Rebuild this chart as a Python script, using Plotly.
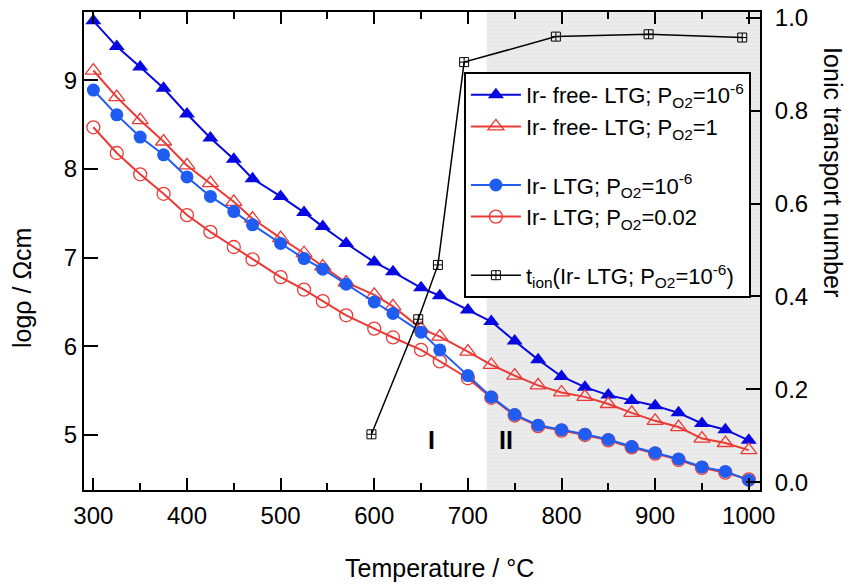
import plotly.graph_objects as go

# ---- data ----
temp = [300, 325, 350, 375, 400, 425, 450, 470, 500, 525, 545, 570, 600, 620, 650,
        670, 700, 725, 750, 775, 800, 825, 850, 875, 900, 925, 950, 975, 1000]

irfree_1e6 = [9.67, 9.38, 9.15, 8.91, 8.62, 8.35, 8.11, 7.89, 7.69, 7.51, 7.35, 7.16, 6.95, 6.84, 6.66,
              6.57, 6.41, 6.28, 6.06, 5.85, 5.66, 5.54, 5.45, 5.39, 5.33, 5.25, 5.13, 5.06, 4.94]
irfree_1 = [9.11, 8.81, 8.55, 8.31, 8.04, 7.84, 7.63, 7.44, 7.22, 7.05, 6.90, 6.72, 6.58, 6.45, 6.20,
            6.11, 5.94, 5.79, 5.67, 5.56, 5.48, 5.43, 5.35, 5.25, 5.16, 5.09, 4.96, 4.91, 4.83]
irltg_1e6 = [8.89, 8.61, 8.36, 8.16, 7.91, 7.69, 7.52, 7.37, 7.16, 6.99, 6.87, 6.70, 6.50, 6.37, 6.16,
             5.96, 5.67, 5.43, 5.23, 5.11, 5.06, 5.01, 4.95, 4.87, 4.80, 4.73, 4.64, 4.59, 4.49]
irltg_002 = [8.47, 8.18, 7.94, 7.72, 7.48, 7.29, 7.12, 6.98, 6.78, 6.64, 6.51, 6.35, 6.20, 6.10, 5.96,
             5.83, 5.64, 5.42, 5.22, 5.10, 5.05, 5.00, 4.94, 4.86, 4.79, 4.72, 4.63, 4.575, 4.50]

tion_temp = [597, 647, 668, 696, 794, 893, 993]
tion_val = [0.103, 0.351, 0.468, 0.905, 0.960, 0.965, 0.958]

region_start = 720          # start of shaded region II
x_range = [290, 1012]
y_range = [4.38, 9.77]
y2_range = [-0.017, 1.013]
x_ticks = [300, 400, 500, 600, 700, 800, 900, 1000]
y_ticks = [5, 6, 7, 8, 9]
y2_ticks = [0.0, 0.2, 0.4, 0.6, 0.8, 1.0]

FONT = "Arial"
BLUE_T = "#0808e0"
BLUE_C = "#1f5cf2"
RED = "#ea3a36"
PO2 = "P<sub>O2</sub>"

fig = go.Figure()

# shaded region II
fig.add_trace(go.Scatter(
    x=[region_start, region_start, x_range[1], x_range[1], region_start],
    y=[y_range[0], y_range[1], y_range[1], y_range[0], y_range[0]],
    mode="lines", line=dict(width=0), fill="toself",
    fillcolor="#ebebeb",
    fillpattern=dict(shape="+", fgcolor="#d4d4d4", bgcolor="#ececec", size=4, solidity=0.2),
    hoverinfo="skip", showlegend=False))

fig.add_trace(go.Scatter(
    x=temp, y=irfree_1e6, mode="lines+markers", name=f"Ir- free- LTG; {PO2}=10<sup>-6</sup>",
    legendgroup="a", legendrank=1,
    line=dict(color=BLUE_T, width=2),
    marker=dict(symbol="triangle-up", size=14, color=BLUE_T)))
fig.add_trace(go.Scatter(
    x=temp, y=irfree_1, mode="lines+markers", name=f"Ir- free- LTG; {PO2}=1",
    legendgroup="a", legendrank=2,
    line=dict(color=RED, width=2),
    marker=dict(symbol="triangle-up-open", size=14, color=RED, line=dict(width=1.3))))
fig.add_trace(go.Scatter(
    x=temp, y=irltg_002, mode="lines+markers", name=f"Ir- LTG; {PO2}=0.02",
    legendgroup="b", legendrank=4,
    line=dict(color=RED, width=2),
    marker=dict(symbol="circle-open", size=13, color=RED, line=dict(width=1.3))))
fig.add_trace(go.Scatter(
    x=temp, y=irltg_1e6, mode="lines+markers", name=f"Ir- LTG; {PO2}=10<sup>-6</sup>",
    legendgroup="b", legendrank=3,
    line=dict(color=BLUE_C, width=2),
    marker=dict(symbol="circle", size=13, color=BLUE_C)))
fig.add_trace(go.Scatter(
    x=tion_temp, y=tion_val, yaxis="y2", mode="lines+markers",
    name=f"t<sub>ion</sub>(Ir- LTG; {PO2}=10<sup>-6</sup>)",
    legendgroup="c", legendrank=5,
    line=dict(color="black", width=1.5),
    marker=dict(symbol="square-cross-open", size=9, color="black", line=dict(width=1))))

fig.add_annotation(x=661, y=4.94, text="<b>I</b>", showarrow=False,
                   font=dict(size=25, family=FONT, color="black"))
fig.add_annotation(x=741, y=4.94, text="<b>II</b>", showarrow=False,
                   font=dict(size=25, family=FONT, color="black"))

# axis titles
title_font = dict(size=25, family=FONT, color="black")
fig.add_annotation(xref="paper", yref="paper", x=-0.0917, y=0.4226, text="logρ / Ωcm",
                   textangle=-90, showarrow=False, font=title_font,
                   xanchor="center", yanchor="middle")
fig.add_annotation(xref="paper", yref="paper", x=1.108, y=0.665, text="Ionic transport number",
                   textangle=90, showarrow=False, font=title_font,
                   xanchor="center", yanchor="middle")
fig.add_annotation(xref="paper", yref="paper", x=0.5266, y=-0.163, text="Temperature / °C",
                   showarrow=False, font=title_font, xanchor="center", yanchor="middle")

axis_common = dict(showline=True, linecolor="black", linewidth=2, ticks="inside",
                   tickcolor="black", tickwidth=1.5, showgrid=False, zeroline=False,
                   automargin=False, ticklabeloverflow="allow",
                   tickfont=dict(size=24, family=FONT, color="black"))

# the page body adds an 8px offset, so margins are shifted to compensate
fig.update_layout(
    width=862, height=586,
    margin=dict(l=76, r=110, t=4, b=104),
    plot_bgcolor="white", paper_bgcolor="white",
    font=dict(family=FONT, color="black"),
    xaxis=dict(range=x_range, tickvals=x_ticks, ticklen=12, mirror="ticks",
               minor=dict(dtick=50, tick0=300, ticks="inside", ticklen=7, tickcolor="black", tickwidth=1.5),
               ticklabelstandoff=3,
               **axis_common),
    yaxis=dict(range=y_range, tickvals=y_ticks, ticklen=14,
               **axis_common),
    yaxis2=dict(range=y2_range, tickvals=y2_ticks, tickformat=".1f", ticklen=14,
                overlaying="y", side="right", ticklabelstandoff=8,
                **axis_common),
    legend=dict(x=0.562, y=0.8745, xanchor="left", yanchor="top",
                bgcolor="white", bordercolor="black", borderwidth=2,
                font=dict(size=22, family=FONT, color="black"),
                traceorder="grouped", tracegroupgap=27, itemwidth=50),
    showlegend=True,
)

fig.write_html("out.html")
